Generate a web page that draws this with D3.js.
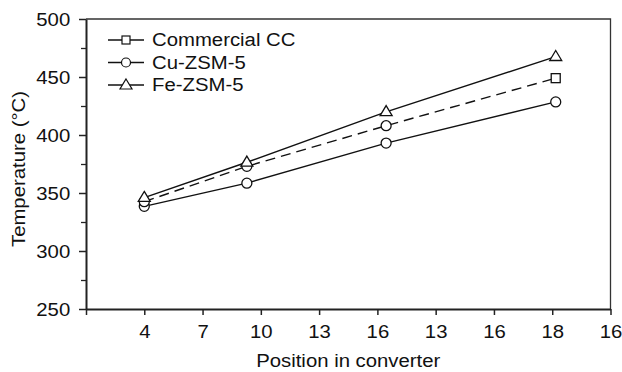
<!DOCTYPE html>
<html>
<head>
<meta charset="utf-8">
<script src="https://cdn.jsdelivr.net/npm/d3@7"></script>
<style>
  html, body { margin: 0; padding: 0; background: #fff; }
  svg { display: block; }
  text { font-family: Arial, "Liberation Sans", sans-serif; fill: #111; }
</style>
</head>
<body>
<svg id="chart" width="622" height="372"></svg>
<script>
// ---------- data ----------
const xTickLabels = ["", "4", "7", "10", "13", "16", "13", "16", "18", "16"]; // labels at tick index 0..9
const xPositions = [1, 2.76, 5.15, 8.06];          // measurement positions (in tick-index units)
const commercialCC = [342.5, 373, 408, 449];
const cuZSM5 = [338.5, 358.5, 393, 428.5];
const feZSM5 = [346, 376.5, 420, 467.5];
const ccMarkers = ["circle", "circle", "circle", "square"];
const yTicks = [250, 300, 350, 400, 450, 500];
const seriesNames = ["Commercial CC", "Cu-ZSM-5", "Fe-ZSM-5"];

// ---------- layout ----------
const svg = d3.select("#chart");
const L = 86, R = 610.5, T = 19, B = 309;
const SX = 1.13, FS = 18;

const x = d3.scaleLinear().domain([0, 9]).range([L, R]);
const y = d3.scaleLinear().domain([250, 500]).range([B, T]);

// frame (top/right)
svg.append("path")
  .attr("d", `M${L},${T}H${R}V${B}`)
  .attr("fill", "none").attr("stroke", "#333").attr("stroke-width", 1.3);

// y axis minor ticks
svg.append("g").attr("transform", `translate(${L},0)`)
  .call(d3.axisLeft(y).tickValues(d3.range(275, 500, 50)).tickSize(5).tickFormat(""))
  .call(g => g.select(".domain").remove())
  .call(g => g.selectAll("line").attr("stroke", "#222").attr("stroke-width", 1.3));

// y axis major
const yAx = svg.append("g").attr("transform", `translate(${L},0)`)
  .call(d3.axisLeft(y).tickValues(yTicks).tickSize(7).tickSizeOuter(0).tickFormat(d3.format("d")));
yAx.select(".domain").attr("stroke", "#222").attr("stroke-width", 2);
yAx.selectAll(".tick line").attr("stroke", "#222").attr("stroke-width", 1.5);
yAx.selectAll(".tick text")
  .attr("x", -14).attr("dy", "0.36em")
  .attr("transform", `scale(${SX},1)`)
  .style("font-size", FS + "px").style("font-family", "Arial, 'Liberation Sans', sans-serif").attr("fill", "#111");

// x axis
const xAx = svg.append("g").attr("transform", `translate(0,${B})`)
  .call(d3.axisBottom(x).tickValues(d3.range(0, 10)).tickSize(6).tickSizeOuter(0)
    .tickFormat(i => xTickLabels[i]));
xAx.select(".domain").attr("stroke", "#222").attr("stroke-width", 2);
xAx.selectAll(".tick line").attr("stroke", "#222").attr("stroke-width", 1.5);
xAx.selectAll(".tick text")
  .attr("y", 23).attr("dy", "0.36em")
  .attr("transform", `scale(${SX},1)`)
  .style("font-size", FS + "px").style("font-family", "Arial, 'Liberation Sans', sans-serif").attr("fill", "#111");

// axis titles
svg.append("text")
  .attr("transform", `translate(${(L + R) / 2},361) scale(${SX},1)`)
  .attr("text-anchor", "middle").attr("dy", "0.36em")
  .style("font-size", FS + "px")
  .text("Position in converter");

svg.append("text")
  .attr("transform", `translate(25,169) rotate(-90) scale(${SX},1)`)
  .attr("text-anchor", "middle")
  .style("font-size", FS + "px")
  .text("Temperature (°C)");

// ---------- series ----------
const line = d3.line().x((d, i) => x(xPositions[i])).y(d => y(d));

function marker(g, shape, cx, cy) {
  if (shape === "circle") {
    g.append("circle").attr("cx", cx).attr("cy", cy).attr("r", 5)
      .attr("fill", "#fff").attr("stroke", "#111").attr("stroke-width", 1.3);
  } else if (shape === "square") {
    g.append("rect").attr("x", cx - 4.5).attr("y", cy - 4.5).attr("width", 9).attr("height", 9)
      .attr("fill", "#fff").attr("stroke", "#111").attr("stroke-width", 1.3);
  } else {
    const h = 10, w = 12;
    g.append("path")
      .attr("d", `M${cx},${cy - h * 0.62}L${cx + w / 2},${cy + h * 0.38}L${cx - w / 2},${cy + h * 0.38}Z`)
      .attr("fill", "#fff").attr("stroke", "#111").attr("stroke-width", 1.3);
  }
}

const series = [
  { name: seriesNames[1], values: cuZSM5, dash: null, shapes: cuZSM5.map(() => "circle") },
  { name: seriesNames[0], values: commercialCC, dash: "10,6", shapes: ccMarkers },
  { name: seriesNames[2], values: feZSM5, dash: null, shapes: feZSM5.map(() => "triangle") }
];

const plot = svg.append("g");
series.forEach(s => {
  plot.append("path").datum(s.values)
    .attr("d", line)
    .attr("fill", "none").attr("stroke", "#111").attr("stroke-width", 1.4)
    .attr("stroke-dasharray", s.dash);
});
series.forEach(s => {
  s.values.forEach((v, i) => marker(plot, s.shapes[i], x(xPositions[i]), y(v)));
});

// ---------- legend ----------
const legendItems = [
  { name: seriesNames[0], shape: "square" },
  { name: seriesNames[1], shape: "circle" },
  { name: seriesNames[2], shape: "triangle" }
];
const lg = svg.append("g");
legendItems.forEach((d, i) => {
  const ly = 40 + i * 22.5;
  lg.append("line").attr("x1", 108).attr("x2", 144).attr("y1", ly).attr("y2", ly)
    .attr("stroke", "#111").attr("stroke-width", 1.4);
  if (d.shape === "square") {
    lg.append("rect").attr("x", 122).attr("y", ly - 4).attr("width", 8).attr("height", 8)
      .attr("fill", "#fff").attr("stroke", "#111").attr("stroke-width", 1.2);
  } else if (d.shape === "circle") {
    lg.append("circle").attr("cx", 126).attr("cy", ly).attr("r", 4.5)
      .attr("fill", "#fff").attr("stroke", "#111").attr("stroke-width", 1.2);
  } else {
    lg.append("path").attr("d", `M126,${ly - 6}L132,${ly + 4}L120,${ly + 4}Z`)
      .attr("fill", "#fff").attr("stroke", "#111").attr("stroke-width", 1.2);
  }
  lg.append("text")
    .attr("transform", `translate(152,${ly}) scale(${SX},1)`)
    .attr("dy", "0.36em")
    .style("font-size", FS + "px")
    .text(d.name);
});
</script>
</body>
</html>
